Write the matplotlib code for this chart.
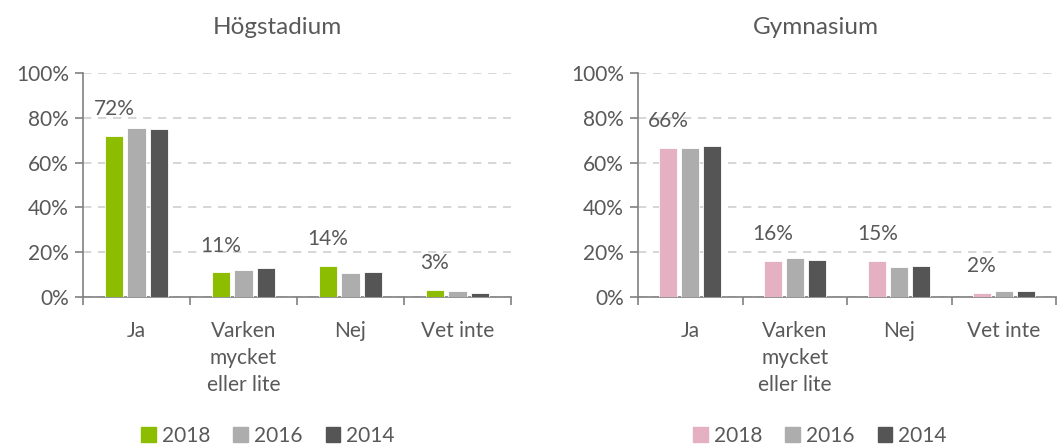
import numpy as np
import matplotlib.pyplot as plt
from matplotlib.ticker import FixedLocator, PercentFormatter
from matplotlib.patches import Patch

plt.rcParams['font.family'] = ['Lato', 'DejaVu Sans']

# Data
kategorier = ['Ja', 'Varken\nmycket\neller lite', 'Nej', 'Vet inte']
ar = ['2018', '2016', '2014']
hog_2018 = [72, 11, 14, 3]
hog_2016 = [75.5, 12, 10.5, 2.5]
hog_2014 = [75, 13, 11, 2]
gym_2018 = [66.5, 16, 16, 2]
gym_2016 = [66.5, 17.5, 13.5, 2.5]
gym_2014 = [67.5, 16.5, 14, 2.5]
hog_etikett = ['72%', '11%', '14%', '3%']
gym_etikett = ['66%', '16%', '15%', '2%']

text_farg = '#595959'
gra = '#adadad'
mork = '#555555'
fs = 15

fig = plt.figure(figsize=(10.57, 4.48), dpi=100)


def rita(ax, serier, farger, etiketter):
    x = np.arange(len(kategorier))
    bredd = 0.17
    steg = 0.21
    for i, (v, f) in enumerate(zip(serier, farger)):
        ax.bar(x + (i - 1) * steg, v, bredd, color=f, edgecolor='white', linewidth=0.6, zorder=3)
    for xi, v, e in zip(x, serier[0], etiketter):
        ax.text(xi - steg, v + 7.5, e, ha='center', va='bottom', fontsize=fs, color=text_farg)
    ax.set_xlim(-0.5, len(kategorier) - 0.5)
    ax.set_ylim(0, 100)
    ax.set_yticks(range(0, 101, 20))
    ax.yaxis.set_major_formatter(PercentFormatter(decimals=0))
    ax.set_xticks(x)
    ax.set_xticklabels(kategorier, fontsize=fs, color=text_farg, va='top', linespacing=1.45)
    ax.tick_params(axis='x', which='major', length=0, pad=17)
    ax.xaxis.set_minor_locator(FixedLocator(np.arange(-0.5, len(kategorier), 1.0)))
    ax.tick_params(axis='x', which='minor', length=6, color='#808080', width=1.2)
    ax.tick_params(axis='y', labelsize=fs, labelcolor=text_farg, length=6, color='#808080', width=1.2, pad=4)
    ax.grid(axis='y', color='#d0d0d0', linestyle=(0, (5, 4)), linewidth=1.2, zorder=0)
    for s in ['top', 'right']:
        ax.spines[s].set_visible(False)
    for s in ['left', 'bottom']:
        ax.spines[s].set_color('#808080')
        ax.spines[s].set_linewidth(1.2)


ax1 = fig.add_axes([83 / 1057, 1 - 297 / 448, 428 / 1057, 224 / 448])
rita(ax1, [hog_2018, hog_2016, hog_2014], ['#8cbd00', gra, mork], hog_etikett)
ax2 = fig.add_axes([638 / 1057, 1 - 297 / 448, 418 / 1057, 224 / 448])
rita(ax2, [gym_2018, gym_2016, gym_2014], ['#e4b0c2', gra, mork], gym_etikett)

fig.text(277 / 1057, 1 - 27 / 448, 'Högstadium', ha='center', va='center', fontsize=17.5, color=text_farg)
fig.text(816 / 1057, 1 - 27 / 448, 'Gymnasium', ha='center', va='center', fontsize=17.5, color=text_farg)

for (cx, farg) in [(268, '#8cbd00'), (820, '#e4b0c2')]:
    handtag = [Patch(color=f) for f in [farg, gra, mork]]
    fig.legend(handtag, ar, loc='center', bbox_to_anchor=(cx / 1057, 1 - 436 / 448), ncol=3, frameon=False,
               fontsize=fs, labelcolor=text_farg, handlelength=0.7, handleheight=0.7, handletextpad=0.3,
               columnspacing=1.1)

fig.savefig('out.png', dpi=100)
